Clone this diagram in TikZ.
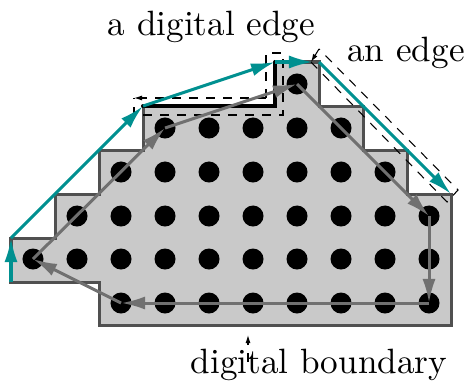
\documentclass[tikz,border=0pt]{standalone}
\usepackage{tikz}
\usetikzlibrary{arrows.meta,calc,positioning}
\definecolor{edgeteal}{HTML}{009090}
\definecolor{regiongray}{HTML}{C9C9C9}
\definecolor{outlinegray}{HTML}{505050}
\definecolor{loopgray}{HTML}{707070}
\tikzset{
	tealarrow/.style={line width=0.03cm,color=edgeteal,-{Latex[length=0.24cm,width=0.13cm]}},
	looparrow/.style={line width=0.03cm,color=loopgray,-{Latex[length=0.24cm,width=0.13cm]}},
	thindash/.style={line width=0.3pt,dash pattern=on 0.09cm off 0.08cm},
	smalltip/.style={-{Latex[length=0.08cm,width=0.05cm]}},
	gridpoint/.style={circle,fill=black,inner sep=0pt,minimum size=0.21cm}
}
\begin{document}
\begin{tikzpicture}[x=0.01cm,y=-0.01cm]
	\useasboundingbox (0,0) rectangle (468,385);
	
	% --- digital region ---
	\draw[fill=regiongray,draw=outlinegray,line width=0.03cm,line join=miter]
		(11,238) -- (55,238) -- (55,194) -- (99,194) -- (99,150) -- (143,150)
		-- (143,106) -- (275,106) -- (275,62) -- (319,62) -- (319,106) -- (363,106)
		-- (363,150) -- (407,150) -- (407,194) -- (451,194) -- (451,325) -- (99,325)
		-- (99,282) -- (11,282) -- cycle;
	
	% --- grid points, row by row ---
	\foreach \c in {6} \node[gridpoint] (p0\c) at (33+44*\c,84) {};
	\foreach \c in {3,...,7} \node[gridpoint] (p1\c) at (33+44*\c,128) {};
	\foreach \c in {2,...,8} \node[gridpoint] (p2\c) at (33+44*\c,172) {};
	\foreach \c in {1,...,9} \node[gridpoint] (p3\c) at (33+44*\c,216) {};
	\foreach \c in {0,...,9} \node[gridpoint] (p4\c) at (33+44*\c,259) {};
	\foreach \c in {2,...,9} \node[gridpoint] (p5\c) at (33+44*\c,303) {};
	
	% --- dashed frames ---
	\coordinate (da) at (266,98);
	\coordinate (db) at (134,98);
	\draw[thindash] (da) -- (266,53) -- (283,53) -- (283,115) -- (134,115) -- (db);
	\draw[thindash,smalltip] (da) -- (db);
	
	\coordinate (fa) at (311,62);
	\coordinate (fb) at (447,202);
	\coordinate (fc) at (458,190);
	\coordinate (fd) at (319,49);
	\draw[thindash] (fa) -- (fb) -- (fc) -- (fd);
	\draw[thindash,smalltip] (fd) -- (fa);
	
	% --- digital edge ---
	\coordinate (v0) at (11,282);
	\coordinate (v1) at (11,238);
	\coordinate (v2) at (143,106);
	\coordinate (v3) at (275,62);
	\coordinate (v4) at (319,62);
	\coordinate (v5) at (451,194);
	\draw[line width=0.04cm,line cap=round,line join=miter] (v2) -- (275,106) -- (v3);
	
	% --- euclidean hull of the region ---
	\draw[tealarrow] (v0) -- (v1);
	\draw[tealarrow] (v1) -- (v2);
	\draw[tealarrow] (v2) -- (v3);
	\draw[tealarrow,shorten >=0.06cm] (v3) -- (v4);
	\draw[tealarrow] (v4) -- (v5);
	
	% --- boundary through the grid points ---
	\draw[looparrow] (p40.center) -- (p13.center);
	\draw[looparrow] (p13.center) -- (p06.center);
	\draw[looparrow] (p06.center) -- (p39.center);
	\draw[looparrow] (p39.center) -- (p59.center);
	\draw[looparrow] (p59.center) -- (p52.center);
	\draw[looparrow] (p52.center) -- (p40.center);
	
	% --- labels ---
	\node[inner sep=0pt,anchor=base] (edgelabel) at (211.5,36) {a digital edge};
	\node[inner sep=0pt,anchor=base] (hulllabel) at (406,62) {an edge};
	\node[inner sep=0pt,anchor=base] (boundlabel) at (319,373) {digital boundary};
	
	\coordinate (bt) at (248,335);
	\draw[thindash,smalltip] (248,362) -- (bt);
\end{tikzpicture}
\end{document}
